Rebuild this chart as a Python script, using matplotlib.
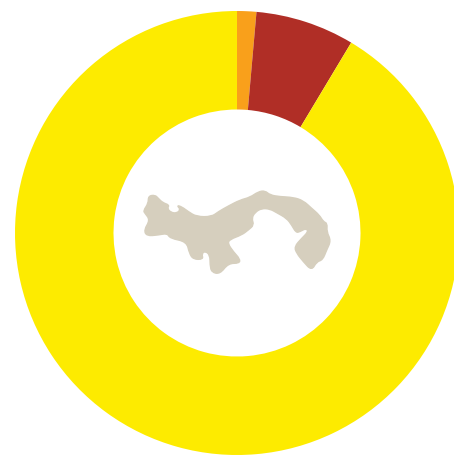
import matplotlib
matplotlib.use("Agg")
import matplotlib.pyplot as plt
from matplotlib.patches import PathPatch
from matplotlib.path import Path

shares = [1.4, 7.2, 91.4]
colors = ["#F9A01B", "#B02E26", "#FDEB00"]
map_color = "#D6CFBE"

# Outline of Panama, traced in the 210x100 map window (3x units)
map_x = [55,75,85,98,118,112,122,140,152,140,155,175,200,245,265,295,330,360,385,405,420,450,490,520,545,568,580,592,590,603,590,578,560,545,520,500,493,515,535,528,510,498,485,470,440,420,395,375,365,372,355,335,300,293,310,330,328,295,270,245,240,240,225,215,220,190,178,170,120,112,85,50,42,60,45,40,55]
map_y = [48,45,55,68,75,85,97,100,88,76,80,95,110,110,95,78,60,52,35,32,45,50,52,62,85,105,125,130,155,182,210,240,245,272,245,220,200,175,155,145,155,158,135,115,98,87,85,97,115,135,150,165,178,190,215,237,250,250,282,277,255,225,213,222,238,238,220,185,175,160,165,168,150,120,100,92,70]

W, H = 454, 455
fig = plt.figure(figsize=(W / 100, H / 100), dpi=100, facecolor="white")
ax = fig.add_axes([0, 0, 1, 1])
ax.pie(shares, colors=colors, startangle=90, counterclock=False,
       center=(237, H - 233), radius=222,
       wedgeprops=dict(width=98.5, linewidth=0), frame=True)
ax.set_xlim(0, W)
ax.set_ylim(0, H)
ax.set_aspect("equal")
ax.axis("off")

map_ax = fig.add_axes([130 / W, 1 - 280 / H, 210 / W, 100 / H])
map_ax.set_xlim(0, 630)
map_ax.set_ylim(300, 0)
map_ax.axis("off")
map_ax.patch.set_alpha(0)

# Rounded outline: traced points act as quadratic control points
pts = list(zip(map_x, map_y))
n = len(pts)
mids = [((pts[i][0] + pts[(i + 1) % n][0]) / 2, (pts[i][1] + pts[(i + 1) % n][1]) / 2) for i in range(n)]
verts = [mids[-1]]
codes = [Path.MOVETO]
for i in range(n):
    verts += [pts[i], mids[i]]
    codes += [Path.CURVE3, Path.CURVE3]
map_ax.add_patch(PathPatch(Path(verts, codes), facecolor=map_color, edgecolor=map_color,
                           linewidth=1.0, joinstyle="round"))

fig.savefig("out.png", dpi=100)
